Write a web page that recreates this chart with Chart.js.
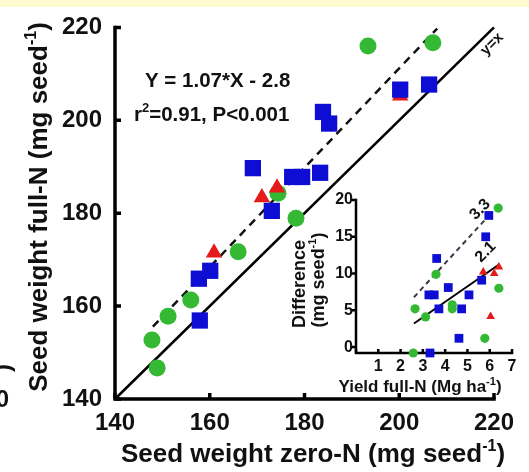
<!DOCTYPE html>
<html lang="en">
<head>
<meta charset="UTF-8">
<title>Seed weight full-N vs zero-N</title>
<script src="https://cdn.jsdelivr.net/npm/chart.js"></script>
<style>
  body { margin: 0; background: #fff; }
  #wrap { position: relative; width: 529px; height: 472px; overflow: hidden; }
  #main { position: absolute; left: 0; top: 0; }
  #inset { position: absolute; left: 280px; top: 180px; }
</style>
</head>
<body>
<div id="wrap">
  <canvas id="main" width="529" height="472"></canvas>
  <canvas id="inset" width="249" height="225"></canvas>
</div>
<script>
// main panel: seed weight (mg seed-1) at zero-N (x) and full-N (y)
const greenZero = [147.8, 148.9, 151.2, 156.0, 166.0, 174.4, 178.2, 193.4, 207.1];
const greenFull = [152.7, 146.7, 157.8, 161.3, 171.7, 184.3, 178.9, 216.0, 216.7];
const blueZero = [157.9, 157.7, 160.1, 169.1, 173.1, 177.4, 179.5, 183.3, 183.9, 185.2, 200.2, 206.3];
const blueFull = [156.9, 165.9, 167.6, 189.7, 180.5, 187.8, 187.8, 188.7, 201.8, 199.3, 206.6, 207.7];
const redZero = [160.9, 171.0, 174.2, 200.2];
const redFull = [171.5, 183.4, 185.5, 205.3];
const mainTicks = [140, 160, 180, 200, 220];
// fitted line Y = 1.07*X - 2.8 and the 1:1 line
const fit = { slope: 1.07, intercept: -2.8, from: 148, to: 208 };
const oneToOne = [140, 220];

// inset: difference (mg seed-1) against yield full-N (Mg ha-1)
const insetGreenYield = [6.38, 3.59, 2.65, 3.12, 4.32, 4.32, 6.41, 5.78, 2.57];
const insetGreenDiff = [18.9, 9.9, 5.2, 4.1, 5.75, 5.2, 8.0, 1.2, -0.8];
const insetBlueYield = [5.96, 5.82, 3.62, 4.14, 3.27, 3.51, 5.07, 3.72, 4.74, 4.62, 5.64, 3.32];
const insetBlueDiff = [17.9, 15.0, 12.05, 8.1, 7.1, 7.1, 7.1, 5.2, 5.2, 1.2, 9.1, -0.8];
const insetRedYield = [5.71, 6.2, 6.41, 6.04];
const insetRedDiff = [10.2, 10.0, 10.9, 4.15];
const insetXTicks = [0, 1, 2, 3, 4, 5, 6, 7];
const insetYTicks = [0, 5, 10, 15, 20];
const insetFits = [
  { slope: 3.3, intercept: -1.8, from: 2.6, to: 5.8, label: '3.3', dashed: true },
  { slope: 2.1, intercept: -2.25, from: 2.6, to: 6.45, label: '2.1', dashed: false }
];

const FONT = '"Liberation Sans", Arial, Helvetica, sans-serif';
const GREEN = '#35b935';
const BLUE = '#0d0dd4';
const RED = '#e51a1a';
Chart.defaults.font.family = FONT;
Chart.defaults.color = '#111';

const pts = (xs, ys) => xs.map((v, i) => ({ x: v, y: ys[i] }));
const lineOf = f => [f.from, f.to].map(v => ({ x: v, y: f.slope * v + f.intercept }));

// text with superscript pieces, parts = [[text, isSup], ...]
function richText(ctx, parts, x, y, size, angle, align) {
  const big = 'bold ' + size + 'px ' + FONT;
  const small = 'bold ' + Math.round(size * 0.62) + 'px ' + FONT;
  ctx.save();
  ctx.translate(x, y);
  ctx.rotate(angle || 0);
  ctx.fillStyle = '#111';
  ctx.textBaseline = 'alphabetic';
  ctx.textAlign = 'left';
  let w = 0;
  parts.forEach(p => { ctx.font = p[1] ? small : big; w += ctx.measureText(p[0]).width; });
  let cx = align === 'left' ? 0 : align === 'right' ? -w : -w / 2;
  parts.forEach(p => {
    ctx.font = p[1] ? small : big;
    ctx.fillText(p[0], cx, p[1] ? -size * 0.42 : 0);
    cx += ctx.measureText(p[0]).width;
  });
  ctx.restore();
}

function drawAxes(chart, lw, tick, yTickOut) {
  const { ctx, chartArea: a, scales: { x, y } } = chart;
  ctx.save();
  ctx.strokeStyle = '#000';
  ctx.lineWidth = lw;
  ctx.lineCap = 'square';
  ctx.beginPath();
  ctx.moveTo(a.left, a.top);
  ctx.lineTo(a.left, a.bottom);
  ctx.lineTo(a.right, a.bottom);
  ctx.stroke();
  ctx.lineCap = 'butt';
  ctx.beginPath();
  x.ticks.forEach(t => {
    const px = x.getPixelForValue(t.value);
    ctx.moveTo(px, a.bottom);
    ctx.lineTo(px, a.bottom - tick);
  });
  y.ticks.forEach(t => {
    const py = y.getPixelForValue(t.value);
    if (yTickOut) { ctx.moveTo(a.left - tick, py); ctx.lineTo(a.left, py); }
    else { ctx.moveTo(a.left, py); ctx.lineTo(a.left + tick, py); }
  });
  ctx.stroke();
  ctx.restore();
}

const mainDecor = {
  id: 'mainDecor',
  beforeDraw(chart) {
    const ctx = chart.ctx;
    ctx.save();
    ctx.fillStyle = '#fffad0';
    ctx.fillRect(0, 0, chart.width, 7);
    ctx.restore();
  },
  beforeDatasetsDraw(chart) {
    drawAxes(chart, 3.5, 6, false);
  },
  afterDraw(chart) {
    const ctx = chart.ctx;
    richText(ctx, [['Seed weight zero-N (mg seed', 0], ['-1', 1], [')', 0]], 313, 462, 26, 0);
    richText(ctx, [['Seed weight full-N (mg seed', 0], ['-1', 1], [')', 0]], 47, 207, 26, -Math.PI / 2);
    richText(ctx, [['Y = 1.07*X - 2.8', 0]], 145, 87, 20.5, 0, 'left');
    richText(ctx, [['r', 0], ['2', 1], ['=0.91, P<0.001', 0]], 134, 121, 20.5, 0, 'left');
    richText(ctx, [['y=x', 0]], 495, 47, 15, -Math.PI / 4);
    // edge of the neighbouring panel
    richText(ctx, [['-1', 1], [')', 0]], 10, 364, 24, -Math.PI / 2, 'right');
    ctx.save();
    ctx.font = 'bold 24px ' + FONT;
    ctx.fillStyle = '#111';
    ctx.textAlign = 'right';
    ctx.textBaseline = 'middle';
    ctx.fillText('0', 9, 400);
    ctx.restore();
  }
};

new Chart(document.getElementById('main'), {
  type: 'scatter',
  data: {
    datasets: [
      { data: pts(blueZero, blueFull), pointStyle: 'rect', pointRadius: 11.5, backgroundColor: BLUE, borderWidth: 0, order: 1, clip: false },
      { data: pts(redZero, redFull), pointStyle: 'triangle', pointRadius: 9.5, backgroundColor: RED, borderWidth: 0, order: 2, clip: false },
      { data: pts(greenZero, greenFull), pointStyle: 'circle', pointRadius: 8.5, backgroundColor: GREEN, borderWidth: 0, order: 3, clip: false },
      { type: 'line', data: lineOf(fit), borderColor: '#111', borderWidth: 2.5, borderDash: [8, 6], pointRadius: 0, order: 5, clip: false },
      { type: 'line', data: oneToOne.map(v => ({ x: v, y: v })), borderColor: '#000', borderWidth: 2.5, pointRadius: 0, order: 6, clip: false }
    ]
  },
  options: {
    responsive: false,
    animation: false,
    layout: { padding: { top: 16, right: 35, left: 0, bottom: 0 } },
    plugins: { legend: { display: false }, tooltip: { enabled: false } },
    scales: {
      x: {
        type: 'linear', min: 140, max: 220,
        grid: { display: false, drawTicks: false }, border: { display: false },
        afterBuildTicks: s => { s.ticks = mainTicks.map(v => ({ value: v })); },
        ticks: { font: { size: 24, weight: 'bold' }, color: '#111', padding: 10, maxRotation: 0 },
        afterFit: s => { s.height = 73; }
      },
      y: {
        type: 'linear', min: 140, max: 220,
        grid: { display: false, drawTicks: false }, border: { display: false },
        afterBuildTicks: s => { s.ticks = mainTicks.map(v => ({ value: v })); },
        ticks: { font: { size: 24, weight: 'bold' }, color: '#111', padding: 13 },
        afterFit: s => { s.width = 115; }
      }
    }
  },
  plugins: [mainDecor]
});

const insetDecor = {
  id: 'insetDecor',
  beforeDatasetsDraw(chart) {
    drawAxes(chart, 2.5, 4, true);
  },
  afterDraw(chart) {
    const ctx = chart.ctx;
    const { x, y } = chart.scales;
    richText(ctx, [['Difference', 0]], 25, 104, 18, -Math.PI / 2);
    richText(ctx, [['(mg seed', 0], ['-1', 1], [')', 0]], 44, 100, 18, -Math.PI / 2);
    richText(ctx, [['Yield full-N (Mg ha', 0], ['-1', 1], [')', 0]], 140, 212, 17, 0);
    // slope labels beside the upper end of each fitted line
    const offsets = [[-2, -7], [-11, -9]];
    insetFits.forEach((f, i) => {
      const px = x.getPixelForValue(f.to);
      const py = y.getPixelForValue(f.slope * f.to + f.intercept);
      richText(ctx, [[f.label, 0]], px + offsets[i][0], py + offsets[i][1], 16, -Math.PI / 4);
    });
  }
};

new Chart(document.getElementById('inset'), {
  type: 'scatter',
  data: {
    datasets: [
      { data: pts(insetBlueYield, insetBlueDiff), pointStyle: 'rect', pointRadius: 6.2, backgroundColor: BLUE, borderWidth: 0, order: 1, clip: false },
      { data: pts(insetRedYield, insetRedDiff), pointStyle: 'triangle', pointRadius: 5, backgroundColor: RED, borderWidth: 0, order: 2, clip: false },
      { data: pts(insetGreenYield, insetGreenDiff), pointStyle: 'circle', pointRadius: 4.6, backgroundColor: GREEN, borderWidth: 0, order: 3, clip: false },
      ...insetFits.map((f, i) => ({
        type: 'line', data: lineOf(f), borderColor: f.dashed ? '#3a3a4a' : '#000',
        borderWidth: 2, borderDash: f.dashed ? [5, 4] : [], pointRadius: 0, order: 5 + i, clip: false
      }))
    ]
  },
  options: {
    responsive: false,
    animation: false,
    layout: { padding: { top: 20, right: 17, left: 0, bottom: 0 } },
    plugins: { legend: { display: false }, tooltip: { enabled: false } },
    scales: {
      x: {
        type: 'linear', min: 0, max: 7,
        grid: { display: false, drawTicks: false }, border: { display: false },
        afterBuildTicks: s => { s.ticks = insetXTicks.map(v => ({ value: v })); },
        ticks: {
          font: { size: 16, weight: 'bold' }, color: '#111', padding: 4, maxRotation: 0,
          callback: v => (v === 0 ? '' : v)
        },
        afterFit: s => { s.height = 52; }
      },
      y: {
        type: 'linear', min: -0.8, max: 20,
        grid: { display: false, drawTicks: false }, border: { display: false },
        afterBuildTicks: s => { s.ticks = insetYTicks.map(v => ({ value: v })); },
        ticks: { font: { size: 16, weight: 'bold' }, color: '#111', padding: 3 },
        afterFit: s => { s.width = 76; }
      }
    }
  },
  plugins: [insetDecor]
});
</script>
</body>
</html>
